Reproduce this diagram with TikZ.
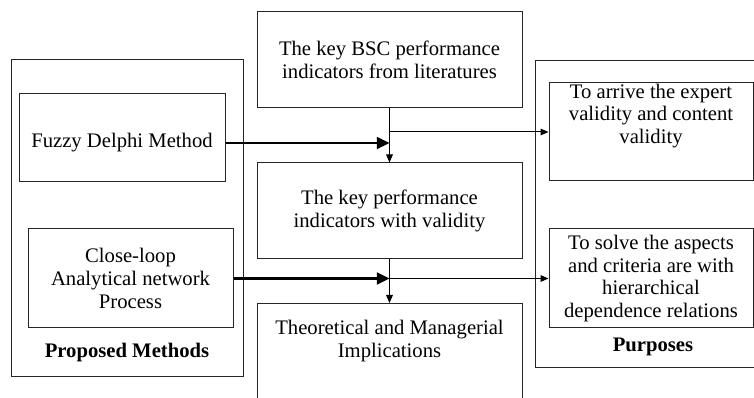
\documentclass[tikz,border=0pt]{standalone}
\usepackage{fontspec}
\setmainfont{Liberation Serif}
\usetikzlibrary{arrows.meta}

\tikzset{
    box/.style={draw=black!85, line width=0.75pt, inner sep=0pt, align=center},
    boxtext/.style={align=center, inner sep=0pt},
    title/.style={font=\fontsize{15.5}{17}\selectfont\bfseries, inner sep=0pt},
    thickarrow/.style={line width=1.6pt, -{Triangle[length=9.5pt,width=9pt]}},
    thinarrow/.style={line width=0.75pt, -{Triangle[length=6pt,width=5pt]}}
}

\begin{document}
\begin{tikzpicture}[x=0.75pt, y=-0.75pt, font=\fontsize{15.5}{17.2}\selectfont]
    \useasboundingbox (0,0) rectangle (754,398);

    % Outer frames
    \node[box, minimum width=174pt, minimum height=237.75pt] (methods) at (127,218.5) {};
    \node[box, anchor=north west, minimum width=176.25pt, minimum height=230.25pt] (purposes) at (535,60) {};
    \node[title] (methodslabel) at (127,353) {Proposed Methods};
    \node[title] (purposeslabel) at (653,347) {Purposes};

    % Methods
    \node[box, minimum width=154.5pt, minimum height=66pt] (fuzzy) at (122,138) {};
    \node[boxtext] (fuzzytext) at (122,143) {Fuzzy Delphi Method};
    \node[box, minimum width=153.75pt, minimum height=74.25pt] (anp) at (130.5,278.5)
        {Close-loop\\Analytical network\\Process};

    % Middle column
    \node[box, minimum width=198.75pt, minimum height=72pt] (bsc) at (389.5,60)
        {The key BSC performance\\indicators from literatures};
    \node[box, minimum width=198.75pt, minimum height=72pt] (kpi) at (389.5,211)
        {The key performance\\indicators with validity};
    \node[box, anchor=north, minimum width=198.75pt, minimum height=80pt] (impl) at (389.5,303) {};
    \node[boxtext] (impltext) at (389.5,341) {Theoretical and Managerial\\Implications};

    % Purposes
    \node[box, minimum width=153pt, minimum height=73.5pt] (arrive) at (651,132) {};
    \node[boxtext] (arrivetext) at (651,116) {To arrive the expert\\validity and content\\validity};
    \node[box, minimum width=153pt, minimum height=74.25pt] (solve) at (651,278.5)
        {To solve the aspects\\and criteria are with\\hierarchical\\dependence relations};

    % Flow down the middle
    \draw[thinarrow] (bsc) -- (kpi);
    \draw[thinarrow] (kpi) -- (impl);

    % Methods into the flow, flow out to purposes
    \draw[thickarrow] (fuzzy.east |- fuzzytext) -- (bsc.south |- fuzzytext);
    \draw[thinarrow] (bsc.south |- arrive.west) -- (arrive.west);
    \draw[thickarrow] (anp.east) -- (kpi.south |- anp.east);
    \draw[thinarrow] (kpi.south |- solve.west) -- (solve.west);

\end{tikzpicture}
\end{document}
